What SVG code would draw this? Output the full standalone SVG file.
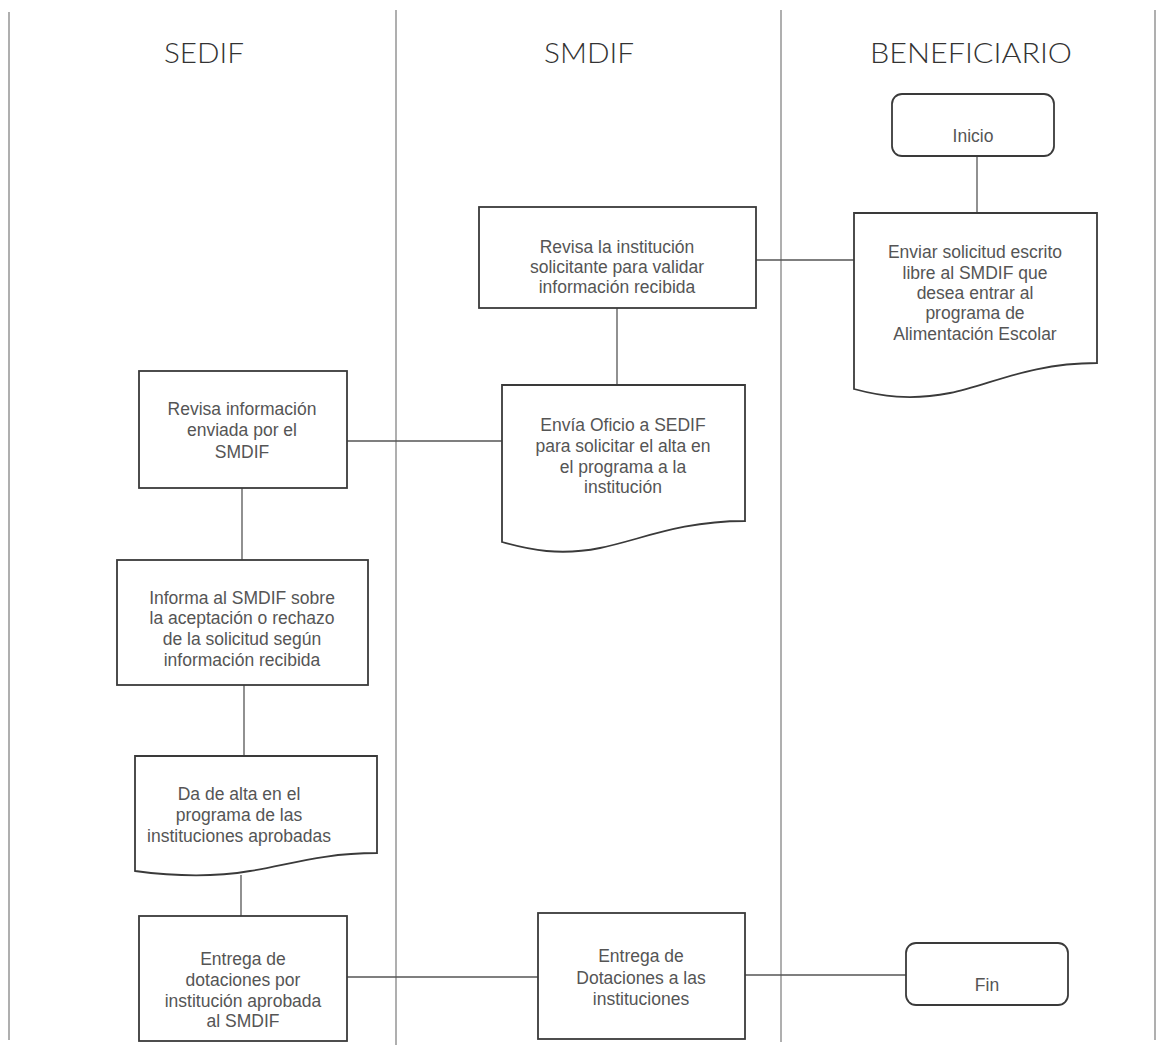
<svg xmlns="http://www.w3.org/2000/svg" width="1158" height="1049" viewBox="0 0 1158 1049">
<style>
.lane{stroke:#7a7a7a;stroke-width:1.2;fill:none}
.hdr{font-family:Lato,"Liberation Sans",sans-serif;font-weight:300;font-size:28px;fill:#333;text-anchor:middle}
.box{fill:#fff;stroke:#3a3a3a;stroke-width:1.8}
.t{font-family:"Liberation Sans",Arial,sans-serif;font-size:17.5px;fill:#555;text-anchor:middle}
.c{stroke:#555;stroke-width:1.3;fill:none}
</style>
<rect width="1158" height="1049" fill="#fff"/>
<g id="lanes">
<line class="lane" x1="9" y1="12" x2="9" y2="1040"/>
<line class="lane" x1="396" y1="10" x2="396" y2="1045"/>
<line class="lane" x1="781" y1="10" x2="781" y2="1042"/>
<line class="lane" x1="1155" y1="10" x2="1155" y2="1040"/>
<text class="hdr" x="204" y="63" textLength="80" lengthAdjust="spacingAndGlyphs">SEDIF</text>
<text class="hdr" x="589" y="63" textLength="90" lengthAdjust="spacingAndGlyphs">SMDIF</text>
<text class="hdr" x="971" y="63" textLength="202" lengthAdjust="spacingAndGlyphs">BENEFICIARIO</text>
</g>
<g id="connectors">
<line class="c" x1="977" y1="156" x2="977" y2="213"/>
<line class="c" x1="756" y1="260" x2="854" y2="260"/>
<line class="c" x1="617" y1="308" x2="617" y2="385"/>
<line class="c" x1="347" y1="441" x2="502" y2="441"/>
<line class="c" x1="242" y1="488" x2="242" y2="560"/>
<line class="c" x1="244" y1="685" x2="244" y2="756"/>
<line class="c" x1="241" y1="875" x2="241" y2="916"/>
<line class="c" x1="347" y1="977" x2="538" y2="977"/>
<line class="c" x1="745" y1="975" x2="906" y2="975"/>
</g>
<g id="inicio">
<rect class="box" x="892" y="94" width="162" height="62" rx="10"/>
<text class="t" x="973" y="142">Inicio</text>
</g>
<g id="enviar">
<path class="box" d="M854,213 H1097 V363 C1030,363 990,385 950,393 C910,401 880,396 854,389 Z"/>
<text class="t" x="975" y="258">Enviar solicitud escrito</text>
<text class="t" x="975" y="279">libre al SMDIF que</text>
<text class="t" x="975" y="299">desea entrar al</text>
<text class="t" x="975" y="319">programa de</text>
<text class="t" x="975" y="340">Alimentación Escolar</text>
</g>
<g id="revisa-institucion">
<rect class="box" x="479" y="207" width="277" height="101"/>
<text class="t" x="617" y="253">Revisa la institución</text>
<text class="t" x="617" y="273">solicitante para validar</text>
<text class="t" x="617" y="293">información recibida</text>
</g>
<g id="envia-oficio">
<path class="box" d="M502,385 H745 V521 C680,521 640,540 600,548 C560,556 530,550 502,542 Z"/>
<text class="t" x="623" y="431">Envía Oficio a SEDIF</text>
<text class="t" x="623" y="452">para solicitar el alta en</text>
<text class="t" x="623" y="473">el programa a la</text>
<text class="t" x="623" y="493">institución</text>
</g>
<g id="revisa-informacion">
<rect class="box" x="139" y="371" width="208" height="117"/>
<text class="t" x="242" y="415">Revisa información</text>
<text class="t" x="242" y="436">enviada por el</text>
<text class="t" x="242" y="458">SMDIF</text>
</g>
<g id="informa">
<rect class="box" x="117" y="560" width="251" height="125"/>
<text class="t" x="242" y="604">Informa al SMDIF sobre</text>
<text class="t" x="242" y="624">la aceptación o rechazo</text>
<text class="t" x="242" y="645">de la solicitud según</text>
<text class="t" x="242" y="666">información recibida</text>
</g>
<g id="da-de-alta">
<path class="box" d="M135,756 H377 V853 C320,853 285,866 250,871 C215,877 180,877 135,871 Z"/>
<text class="t" x="239" y="800">Da de alta en el</text>
<text class="t" x="239" y="821">programa de las</text>
<text class="t" x="239" y="842">instituciones aprobadas</text>
</g>
<g id="entrega-sedif">
<rect class="box" x="139" y="916" width="208" height="125"/>
<text class="t" x="243" y="965">Entrega de</text>
<text class="t" x="243" y="986">dotaciones por</text>
<text class="t" x="243" y="1007">institución aprobada</text>
<text class="t" x="243" y="1027">al SMDIF</text>
</g>
<g id="entrega-smdif">
<rect class="box" x="538" y="913" width="207" height="126"/>
<text class="t" x="641" y="962">Entrega de</text>
<text class="t" x="641" y="984">Dotaciones a las</text>
<text class="t" x="641" y="1005">instituciones</text>
</g>
<g id="fin">
<rect class="box" x="906" y="943" width="162" height="62" rx="10"/>
<text class="t" x="987" y="991">Fin</text>
</g>
</svg>
